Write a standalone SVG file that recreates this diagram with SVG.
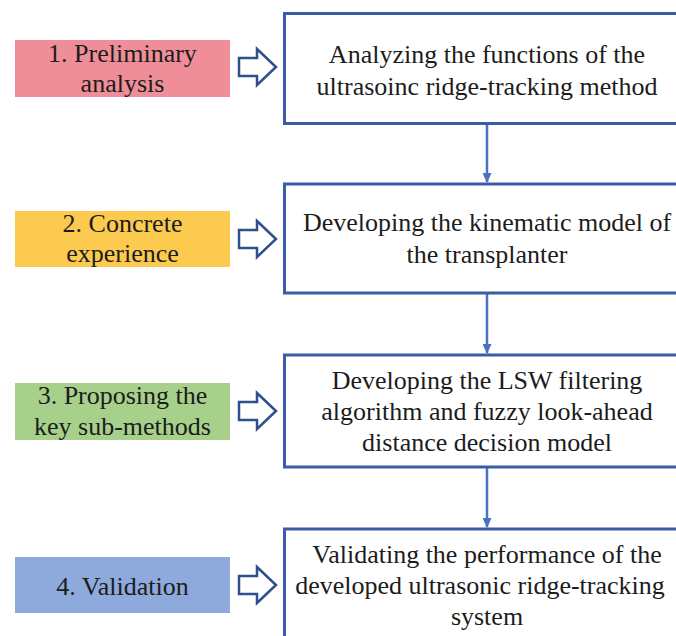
<svg xmlns="http://www.w3.org/2000/svg" width="676" height="636" viewBox="0 0 676 636">
<style>
.t{font-family:"Liberation Serif","Times New Roman",serif;font-size:26px;fill:#1c1c1c;text-anchor:middle}
.step{fill:#ffffff;stroke:#3a5ca6;stroke-width:3}
.conn{stroke:#4a72c0;stroke-width:2.5;fill:none}
.harrow{fill:#ffffff;stroke:#2f4f8f;stroke-width:2.5;stroke-linejoin:miter}
</style>
<defs>
<marker id="ah" markerWidth="10" markerHeight="9" refX="9" refY="4.5" orient="auto" markerUnits="userSpaceOnUse">
<path d="M0,0 L10,4.5 L0,9 Z" fill="#4a72c0"/>
</marker>
<path id="hollow" d="M0,-9 L18,-9 L18,-18 L37,0 L18,18 L18,9 L0,9 Z"/>
</defs>
<rect width="676" height="636" fill="#ffffff"/>

<g id="connectors">
<line class="conn" x1="487" y1="124" x2="487" y2="182" marker-end="url(#ah)"/>
<line class="conn" x1="487" y1="294" x2="487" y2="353" marker-end="url(#ah)"/>
<line class="conn" x1="487" y1="468" x2="487" y2="527" marker-end="url(#ah)"/>
<use href="#hollow" class="harrow" x="239" y="67"/>
<use href="#hollow" class="harrow" x="239" y="239"/>
<use href="#hollow" class="harrow" x="239" y="411"/>
<use href="#hollow" class="harrow" x="239" y="585"/>
</g>

<g id="label1">
<rect x="15" y="40" width="215" height="57" fill="#ef8e99"/>
<text class="t" x="122.5" y="62">1. Preliminary</text>
<text class="t" x="122.5" y="92">analysis</text>
</g>
<g id="label2">
<rect x="15" y="211" width="215" height="56" fill="#fbca4f"/>
<text class="t" x="122.5" y="232">2. Concrete</text>
<text class="t" x="122.5" y="262">experience</text>
</g>
<g id="label3">
<rect x="15" y="383" width="215" height="57" fill="#a7d08b"/>
<text class="t" x="122.5" y="404">3. Proposing the</text>
<text class="t" x="122.5" y="435">key sub-methods</text>
</g>
<g id="label4">
<rect x="15" y="557" width="215" height="56" fill="#8eaadc"/>
<text class="t" x="122.5" y="595">4. Validation</text>
</g>

<g id="step1">
<rect class="step" x="284.5" y="13.5" width="410" height="110"/>
<text class="t" x="487" y="63">Analyzing the functions of the</text>
<text class="t" x="487" y="95">ultrasoinc ridge-tracking method</text>
</g>
<g id="step2">
<rect class="step" x="284.5" y="184" width="410" height="109"/>
<text class="t" x="487" y="231">Developing the kinematic model of</text>
<text class="t" x="487" y="263">the transplanter</text>
</g>
<g id="step3">
<rect class="step" x="284.5" y="355" width="410" height="112"/>
<text class="t" x="487" y="389">Developing the LSW filtering</text>
<text class="t" x="487" y="420">algorithm and fuzzy look-ahead</text>
<text class="t" x="487" y="451">distance decision model</text>
</g>
<g id="step4">
<rect class="step" x="284.5" y="529" width="410" height="120"/>
<text class="t" x="487" y="563">Validating the performance of the</text>
<text class="t" x="480" y="594">developed ultrasonic ridge-tracking</text>
<text class="t" x="487" y="625">system</text>
</g>
</svg>
